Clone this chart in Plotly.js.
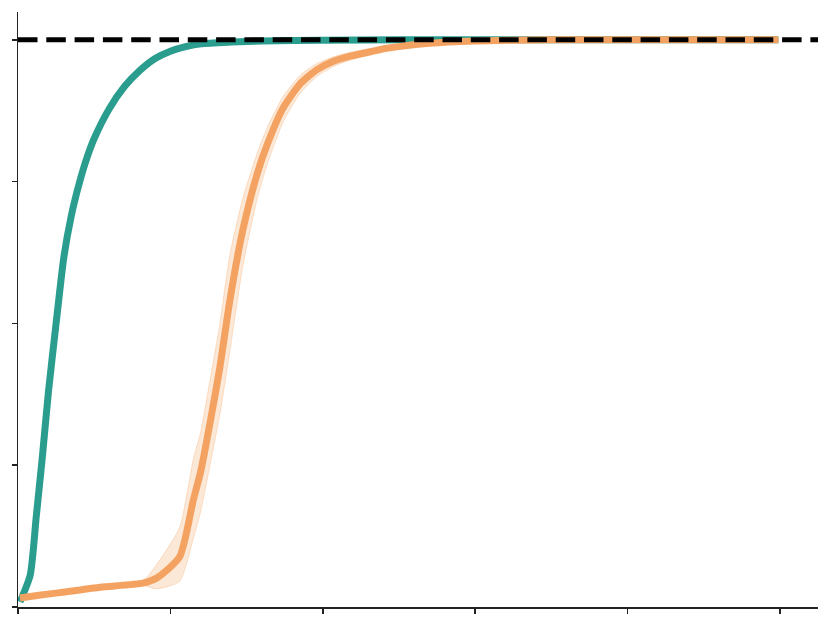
<!DOCTYPE html>
<html>
<head>
<meta charset="utf-8">
<script src="https://cdn.plot.ly/plotly-3.0.1.min.js"></script>
<style>
  html, body { margin: 0; padding: 0; background: #fff; }
  #chart { width: 831px; height: 627px; }
</style>
</head>
<body>
<div id="chart"></div>
<script>
// teal run
var tealX = [0.13, 0.8, 1.2, 1.6, 2.0, 2.5, 3.0, 3.5, 4.0, 4.5, 5.0, 6.0, 7.0, 8.0, 9.0, 10, 11, 12, 14, 16, 20, 25, 30, 35, 40, 45, 49.9];
var tealY = [0.009, 0.056, 0.16, 0.265, 0.38, 0.50, 0.615, 0.69, 0.745, 0.79, 0.826, 0.879, 0.918, 0.946, 0.967, 0.980, 0.988, 0.993, 0.996, 0.998, 0.999, 1.0, 1.0, 1.0, 1.0, 1.0, 1.0];
var tealLo = [0.008, 0.054, 0.156, 0.26, 0.374, 0.494, 0.609, 0.684, 0.739, 0.784, 0.820, 0.873, 0.912, 0.940, 0.961, 0.975, 0.983, 0.988, 0.992, 0.995, 0.997, 0.998, 0.998, 0.998, 0.998, 0.998, 0.998];
var tealHi = [0.010, 0.058, 0.164, 0.27, 0.386, 0.506, 0.621, 0.696, 0.751, 0.796, 0.832, 0.885, 0.924, 0.952, 0.973, 0.985, 0.993, 0.998, 1.0, 1.002, 1.002, 1.002, 1.002, 1.002, 1.002, 1.002, 1.002];

// orange run
var orangeX = [0.13, 1.5, 3.2, 5.4, 8.2, 9.1, 10.6, 11.5, 12.0, 12.6, 13.25, 13.9, 14.75, 15.7, 16.35, 17.4, 18.5, 19.6, 20.7, 21.8, 23.3, 24.2, 27, 30, 35, 40, 45, 49.9];
var orangeY = [0.016, 0.021, 0.027, 0.035, 0.042, 0.051, 0.088, 0.188, 0.24, 0.324, 0.423, 0.54, 0.664, 0.764, 0.815, 0.88, 0.922, 0.947, 0.962, 0.971, 0.980, 0.985, 0.994, 0.998, 1.0, 1.0, 1.0, 1.0];
var orangeLo = [0.014, 0.019, 0.025, 0.033, 0.038, 0.032, 0.045, 0.12, 0.17, 0.25, 0.34, 0.45, 0.60, 0.72, 0.78, 0.855, 0.905, 0.935, 0.953, 0.964, 0.975, 0.981, 0.991, 0.996, 0.998, 0.998, 0.998, 0.998];
var orangeHi = [0.018, 0.023, 0.029, 0.037, 0.047, 0.075, 0.14, 0.26, 0.31, 0.40, 0.50, 0.62, 0.72, 0.80, 0.845, 0.90, 0.937, 0.958, 0.970, 0.978, 0.985, 0.989, 0.997, 1.0, 1.002, 1.002, 1.002, 1.002];

var xTicks = [0, 10, 20, 30, 40, 50];
var yTicks = [0, 0.25, 0.5, 0.75, 1.0];
var target = 1.0;

function band(x, lo, hi, fillColor, edgeColor) {
  return [
    { x: x, y: lo, mode: 'lines', line: { width: 1, color: edgeColor, shape: 'spline', smoothing: 0.6 }, hoverinfo: 'skip', showlegend: false },
    { x: x, y: hi, mode: 'lines', fill: 'tonexty', fillcolor: fillColor, line: { width: 1, color: edgeColor, shape: 'spline', smoothing: 0.6 }, hoverinfo: 'skip', showlegend: false }
  ];
}

function curve(x, y, color) {
  return { x: x, y: y, mode: 'lines', line: { color: color, width: 7, shape: 'spline', smoothing: 0.6 }, showlegend: false };
}

var data = []
  .concat(band(tealX, tealLo, tealHi, 'rgba(42,157,143,0.25)', 'rgba(42,157,143,0.3)'))
  .concat([curve(tealX, tealY, '#2a9d8f')])
  .concat(band(orangeX, orangeLo, orangeHi, 'rgba(244,162,97,0.25)', 'rgba(244,162,97,0.3)'))
  .concat([curve(orangeX, orangeY, '#f4a261')]);

var axisCommon = {
  showline: true,
  linecolor: '#222',
  linewidth: 1.5,
  ticks: 'outside',
  ticklen: 5,
  tickwidth: 1.5,
  tickcolor: '#222',
  showticklabels: false,
  showgrid: false,
  zeroline: false
};

var layout = {
  width: 831,
  height: 627,
  margin: { l: 18, r: 13, t: 12, b: 20 },
  paper_bgcolor: '#fff',
  plot_bgcolor: '#fff',
  showlegend: false,
  xaxis: Object.assign({ range: [0, 52.5], tickvals: xTicks }, axisCommon),
  yaxis: Object.assign({ range: [0, 1.049], tickvals: yTicks }, axisCommon),
  shapes: [{
    type: 'line', xref: 'paper', yref: 'y',
    x0: 0, x1: 1, y0: target, y1: target,
    line: { color: '#000', width: 5, dash: '19.5px,8.8px' },
    layer: 'above'
  }]
};

Plotly.newPlot('chart', data, layout, { displayModeBar: false, staticPlot: true });
</script>
</body>
</html>
